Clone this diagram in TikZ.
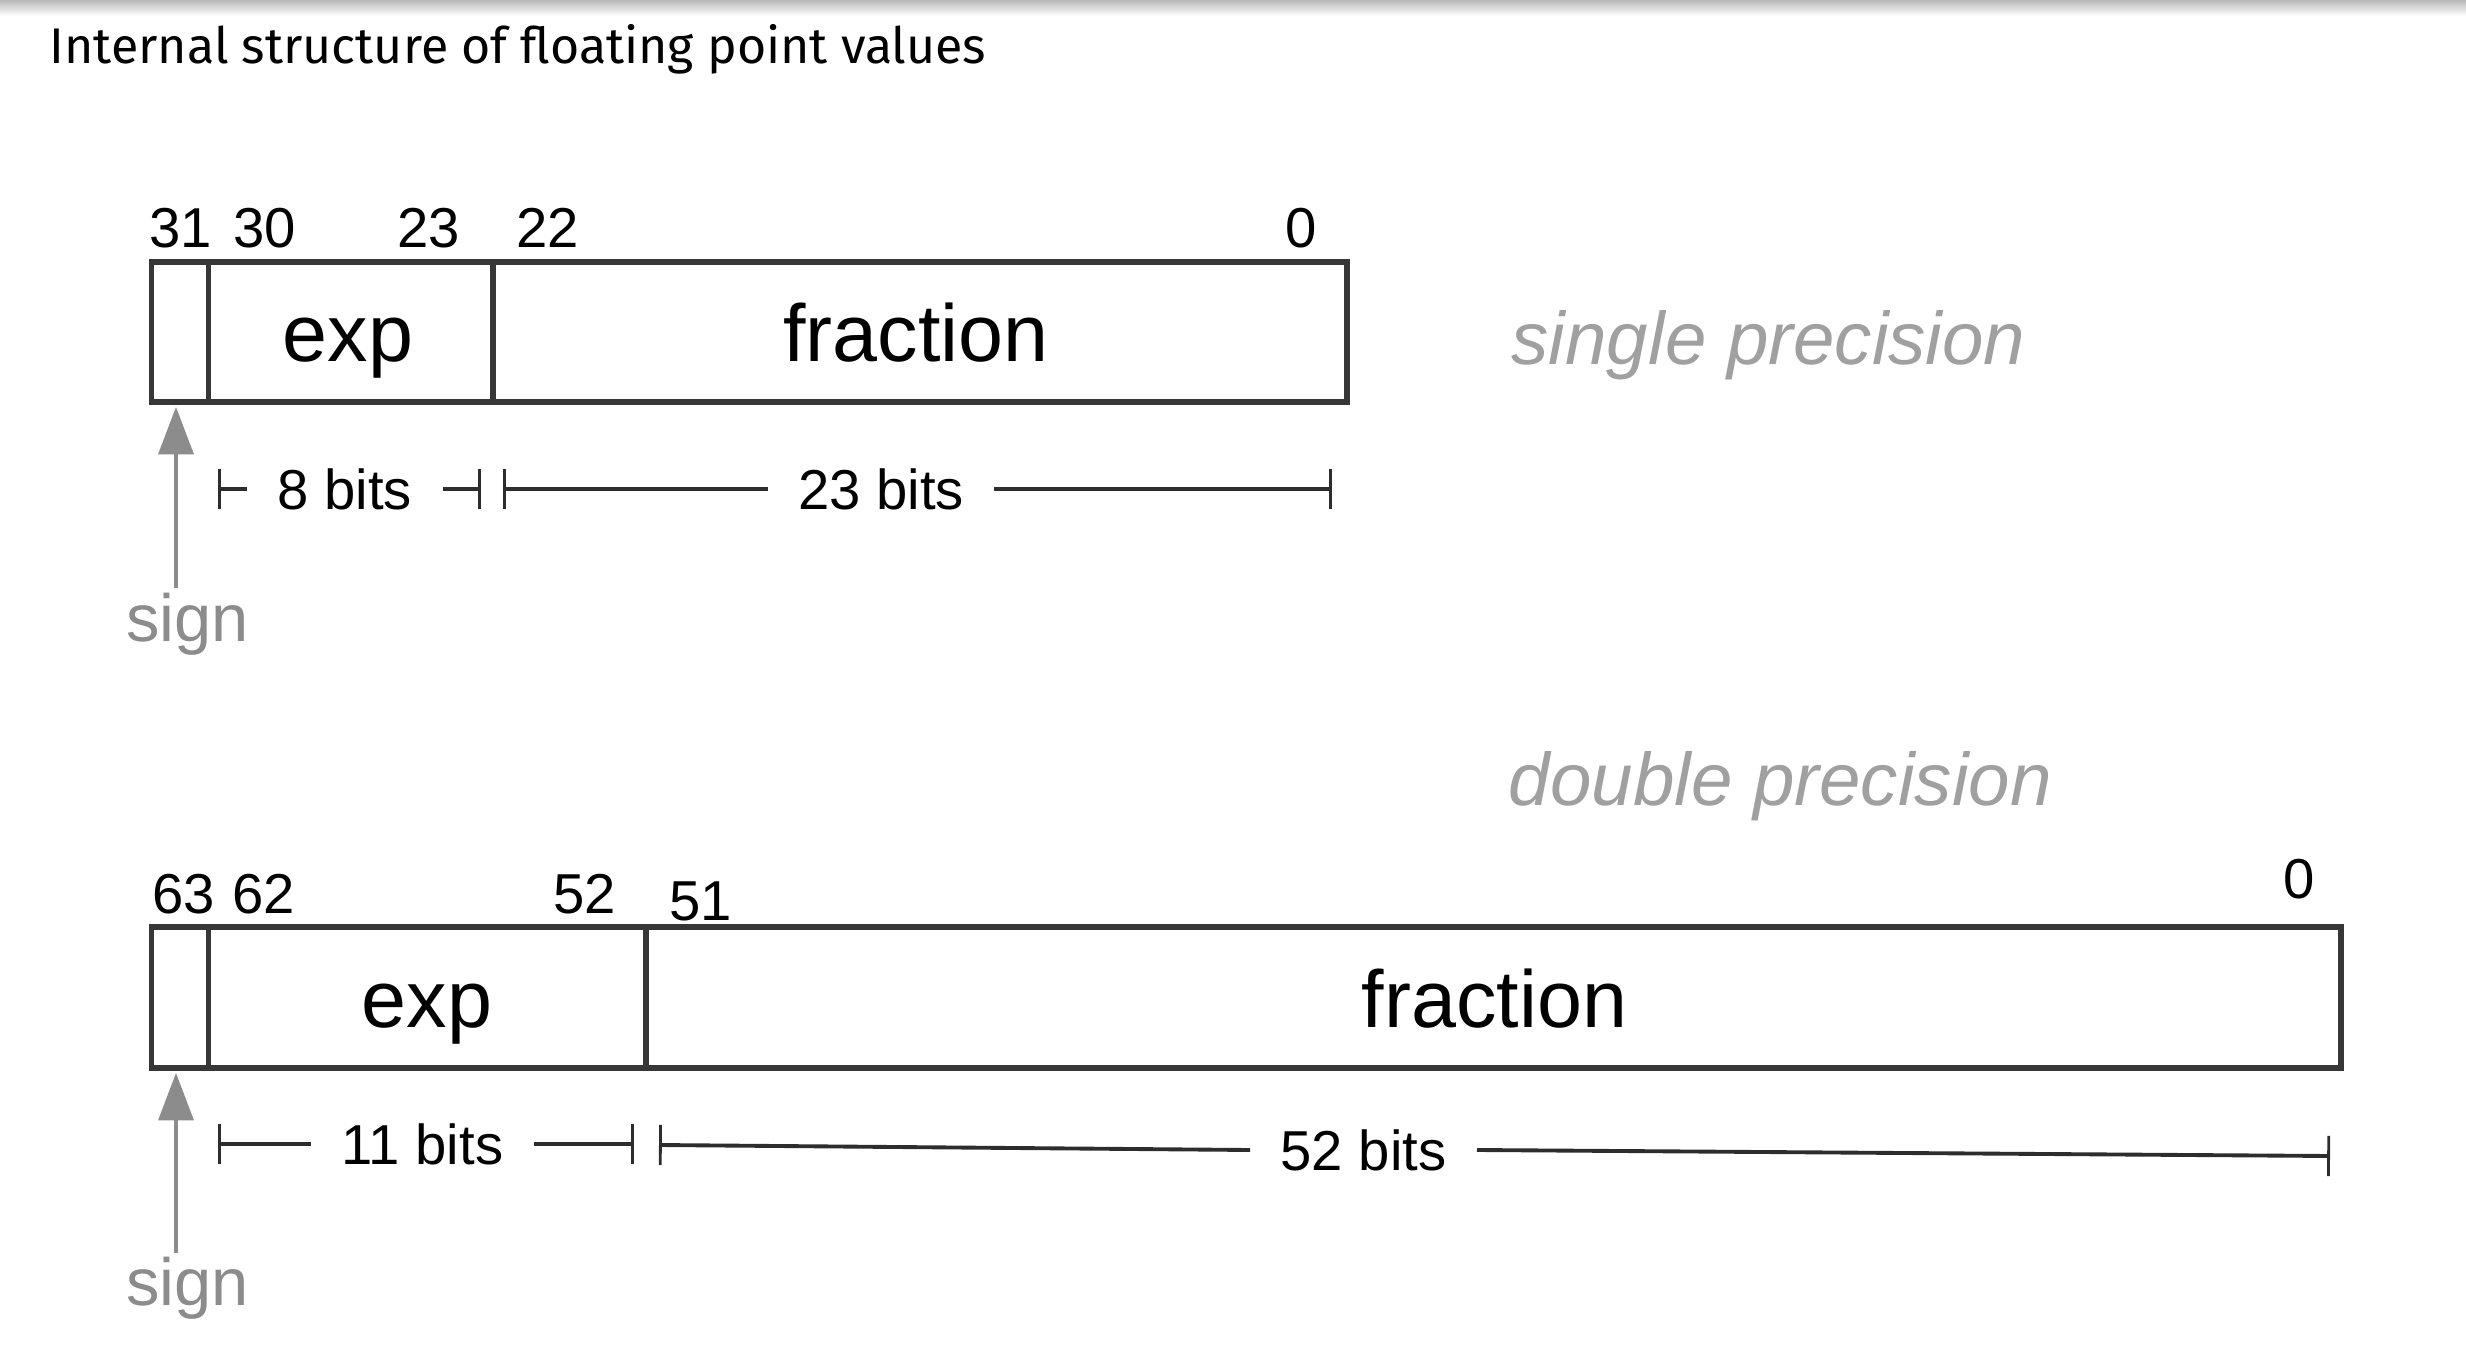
\documentclass[tikz,border=0pt]{standalone}
\usepackage{fontspec}
\setmainfont{Liberation Sans}
\newfontfamily\titlefont{Fira Sans}
\usetikzlibrary{arrows.meta,positioning}
\definecolor{colBox}{RGB}{55,55,55}
\definecolor{colDim}{RGB}{45,45,45}
\definecolor{colSign}{RGB}{140,140,140}
\definecolor{colPrec}{RGB}{160,160,160}

\tikzset{
  field/.style={draw=colBox, line width=1.5pt},
  bitnum/.style={anchor=base, inner sep=0pt, font=\fontsize{16}{18}\selectfont},
  fieldname/.style={anchor=base, inner sep=0pt, font=\fontsize{23}{26}\selectfont},
  dimtext/.style={inner xsep=8.5pt, inner ysep=0pt, font=\fontsize{16}{18}\selectfont},
  dimline/.style={draw=colDim, line width=1.1pt},
  signtext/.style={anchor=base, inner sep=0pt, text=colSign, font=\fontsize{19}{22}\selectfont},
  signarrow/.style={draw=colSign, line width=0.9pt, -{Triangle[length=13.5pt, width=10pt]}},
  prectext/.style={anchor=base west, inner sep=0pt, text=colPrec, font=\itshape\fontsize{21.2}{24}\selectfont},
  bartip/.tip={Bar[width=11.5pt, line width=0.8pt]},
}

\begin{document}
\begin{tikzpicture}[x=0.01cm, y=-0.01cm]
    \useasboundingbox (0,0) rectangle (2466,1346);
    \shade[top color=gray!55, bottom color=white] (0,0) rectangle (2466,16);

    \node[anchor=base west, inner sep=0pt, font=\titlefont\fontsize{14.25}{16}\selectfont] (title) at (49,64)
        {Internal structure of floating point values};

    % single precision
    \draw[field] (151.5,262) rectangle (1347,402);
    \draw[field] (208.7,262) -- (208.7,402);
    \draw[field] (493,262) -- (493,402);
    \foreach \n/\x in {31/181, 30/265, 23/429, 22/548, 0/1301} {
        \node[bitnum] (s\n) at (\x,248) {\n};
    }
    \node[fieldname] (sexp) at (348,362) {exp};
    \node[fieldname] (sfrac) at (916,362) {fraction};
    \node[prectext] (single) at (1511,365) {single precision};

    \coordinate (stip) at (176,407);
    \coordinate (stail) at (176,588);
    \draw[signarrow] (stail) -- (stip);
    \node[signtext] (ssign) at (187.5,641) {sign};

    \coordinate (sd0) at (218,489);
    \coordinate (sd1) at (480.6,489);
    \coordinate (sd2) at (503,489);
    \coordinate (sd3) at (1332,489);
    \node[dimtext] (bits8) at (344.75,489) {8 bits};
    \node[dimtext] (bits23) at (881,489) {23 bits};
    \draw[dimline, bartip-] (sd0) -- (bits8.west);
    \draw[dimline, -bartip] (bits8.east) -- (sd1);
    \draw[dimline, bartip-] (sd2) -- (bits23.west);
    \draw[dimline, -bartip] (bits23.east) -- (sd3);

    % double precision
    \draw[field] (151.5,927) rectangle (2341,1068);
    \draw[field] (208.7,927) -- (208.7,1068);
    \draw[field] (646,927) -- (646,1068);
    \foreach \n/\x/\y in {63/184/913, 62/264/913, 52/584.5/913, 51/701/920, 0/2299/898} {
        \node[bitnum] (d\n) at (\x,\y) {\n};
    }
    \node[fieldname] (dexp) at (427,1027) {exp};
    \node[fieldname] (dfrac) at (1494.5,1027) {fraction};
    \node[prectext] (double) at (1508,805) {double precision};

    \coordinate (dtip) at (176,1073);
    \coordinate (dtail) at (176,1253);
    \draw[signarrow] (dtail) -- (dtip);
    \node[signtext] (dsign) at (187.5,1305) {sign};

    \coordinate (dd0) at (218,1144);
    \coordinate (dd1) at (634,1144);
    \coordinate (dd2) at (659,1145);
    \coordinate (dd3) at (2330,1156);
    \node[dimtext] (bits11) at (422.5,1144) {11 bits};
    \node[dimtext] (bits52) at (1363.5,1150) {52 bits};
    \draw[dimline, bartip-] (dd0) -- (bits11.west);
    \draw[dimline, -bartip] (bits11.east) -- (dd1);
    \draw[dimline, bartip-] (dd2) -- (bits52.west);
    \draw[dimline, -bartip] (bits52.east) -- (dd3);
\end{tikzpicture}
\end{document}
